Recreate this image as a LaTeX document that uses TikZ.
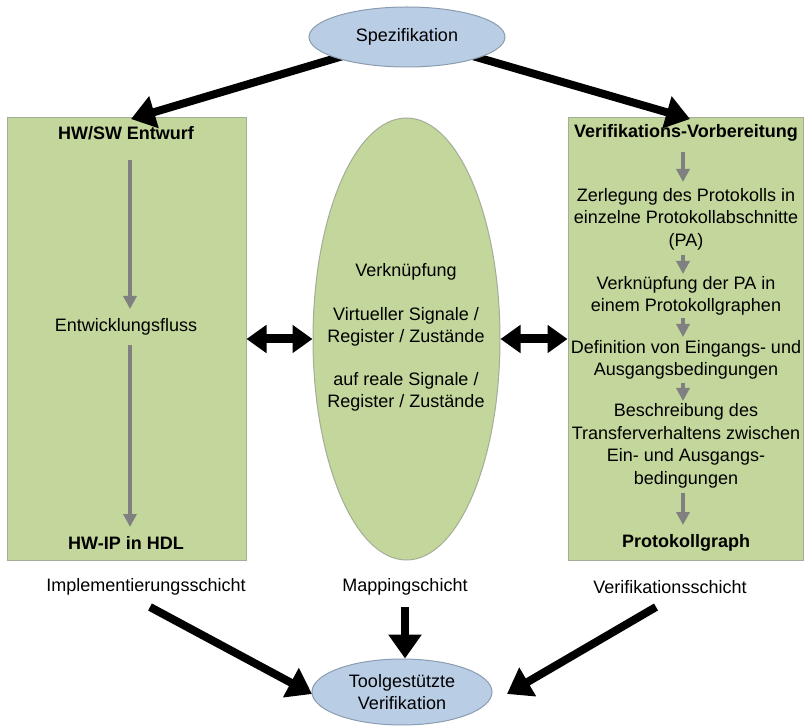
\documentclass[tikz,border=0pt]{standalone}
\usepackage{fontspec}
\setmainfont{Liberation Sans}
\usetikzlibrary{arrows.meta,shapes.geometric}

\definecolor{boxgreen}{HTML}{C3D69B}
\definecolor{boxline}{HTML}{A3AE98}
\definecolor{ovalblue}{HTML}{B9CDE5}
\definecolor{ovalline}{HTML}{8A9CB0}
\definecolor{flowgray}{HTML}{808080}

\tikzset{
  panel/.style={draw=boxline, fill=boxgreen, line width=1pt, inner sep=0pt},
  oval/.style={ellipse, draw=ovalline, fill=ovalblue, line width=1pt, inner sep=0pt},
  midoval/.style={ellipse, draw=boxline, fill=boxgreen, line width=1pt, inner sep=0pt},
  txt/.style={font=\fontsize{18}{22.5}\selectfont, align=center, inner sep=0pt},
  hdr/.style={txt, font=\fontsize{18}{22.5}\selectfont\bfseries},
  bigarrow/.style={line width=8pt, -{Triangle[length=24pt,width=32pt]}},
  twoway/.style={line width=9pt, {Triangle[length=20pt,width=27pt]}-{Triangle[length=20pt,width=27pt]}},
  flow/.style={draw=flowgray, line width=4pt, -{Triangle[length=13pt,width=13pt]}},
}

\begin{document}
\begin{tikzpicture}[x=1pt, y=-1pt]
  \useasboundingbox (0,0) rectangle (804,727);

  % panels and the mapping oval
  \node[panel, minimum width=239pt, minimum height=442pt] (hw) at (126.5,339) {};
  \node[panel, minimum width=235pt, minimum height=442pt] (ver) at (685.5,339) {};
  \node[midoval, minimum width=187pt, minimum height=442pt] (map) at (406.5,339) {};

  % left panel
  \node[hdr] (hwtitle) at (126,133) {HW/SW Entwurf};
  \node[txt] (flowtxt) at (126,327) {Entwicklungsfluss};
  \node[hdr] (hwip) at (126,543) {HW-IP in HDL};

  % right panel
  \node[hdr] (vtitle) at (686,133) {Verifikations-Vorbereitung};
  \node[txt] (s1) at (686,219) {Zerlegung des Protokolls in\\einzelne Protokollabschnitte\\(PA)};
  \node[txt] (s2) at (686,296) {Verknüpfung der PA in\\einem Protokollgraphen};
  \node[txt] (s3) at (686,360) {Definition von Eingangs- und\\Ausgangsbedingungen};
  \node[txt] (s4) at (686,446) {Beschreibung des\\Transferverhaltens zwischen\\Ein- und Ausgangs-\\bedingungen};
  \node[hdr] (pgraph) at (686,543) {Protokollgraph};

  % middle oval
  \node[txt] (mtitle) at (406,272) {Verknüpfung};
  \node[txt] (mvirt) at (406,327) {Virtueller Signale /\\Register / Zustände};
  \node[txt] (mreal) at (406,392) {auf reale Signale /\\Register / Zustände};

  % layer captions
  \node[txt] (limpl) at (146,587) {Implementierungsschicht};
  \node[txt] (lmap) at (405,587) {Mappingschicht};
  \node[txt] (lver) at (670,587) {Verifikationsschicht};

  % arrow end points
  \coordinate (specc) at (407,37);
  \coordinate (hwin) at (131,119);
  \coordinate (verin) at (690,119);
  \coordinate (implout) at (150,607);
  \coordinate (mapout) at (405,607);
  \coordinate (verout) at (656,607);

  % spezifikation feeds both panels (arrows start beneath the oval)
  \draw[bigarrow] (specc) -- (hwin);
  \draw[bigarrow] (specc) -- (verin);
  \node[oval, minimum width=196pt, minimum height=60pt, txt] (spec) at (specc) {Spezifikation};

  % tool oval
  \node[oval, minimum width=180pt, minimum height=66pt, txt] (tool) at (402,692) {Toolgestützte\\Verifikation};
  \coordinate (toolL) at (312,694);
  \coordinate (toolT) at (tool.north -| mapout);
  \coordinate (toolR) at (507,694);

  % mapping links
  \draw[twoway] (hw.east |- map.center) -- (map.west);
  \draw[twoway] (map.east) -- (ver.west |- map.center);

  % layers into the tool
  \draw[bigarrow] (implout) -- (toolL);
  \draw[bigarrow] (mapout) -- (toolT);
  \draw[bigarrow] (verout) -- (toolR);

  % design flow, left panel
  \coordinate (f1a) at (130,160);
  \coordinate (f1b) at (130,309);
  \coordinate (f2a) at (130,345);
  \coordinate (f2b) at (130,527);
  \draw[flow] (f1a) -- (f1b);
  \draw[flow] (f2a) -- (f2b);

  % preparation steps, right panel
  \coordinate (r1a) at (683,152); \coordinate (r1b) at (683,182);
  \coordinate (r2a) at (683,255); \coordinate (r2b) at (683,274);
  \coordinate (r3a) at (683,318); \coordinate (r3b) at (683,337);
  \coordinate (r4a) at (683,383); \coordinate (r4b) at (683,401);
  \coordinate (r5a) at (683,493); \coordinate (r5b) at (683,525);
  \draw[flow] (r1a) -- (r1b);
  \draw[flow] (r2a) -- (r2b);
  \draw[flow] (r3a) -- (r3b);
  \draw[flow] (r4a) -- (r4b);
  \draw[flow] (r5a) -- (r5b);
\end{tikzpicture}
\end{document}
